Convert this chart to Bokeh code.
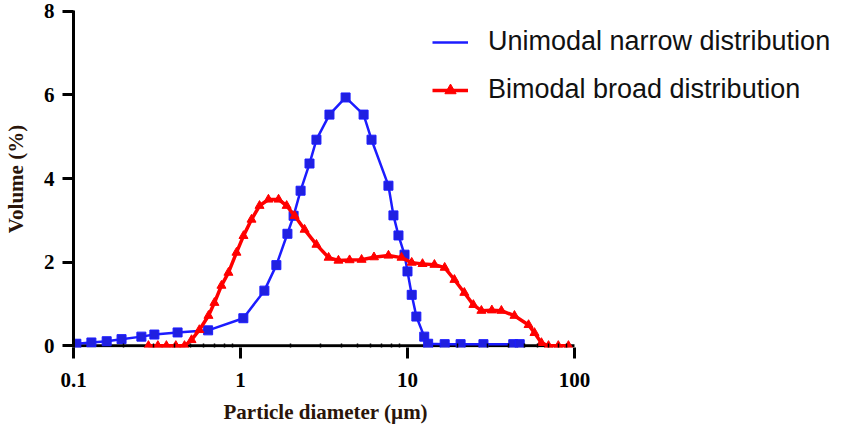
from bokeh.plotting import figure
from bokeh.models import Range1d, FixedTicker, Legend, LegendItem, CustomJSTickFormatter, Title
from bokeh.embed import file_html
from bokeh.resources import INLINE

# Unimodal narrow distribution (blue, squares)
uni_d = [0.104, 0.128, 0.158, 0.194, 0.255, 0.305, 0.42, 0.64, 1.04, 1.39, 1.64, 1.91,
         2.08, 2.29, 2.59, 2.85, 3.41, 4.26, 5.46, 6.09, 7.69, 8.24, 8.83, 9.6, 10.0,
         10.6, 11.3, 12.6, 13.3, 16.7, 20.8, 28.5, 43.0, 47.0]
uni_v = [0.05, 0.08, 0.11, 0.16, 0.22, 0.27, 0.32, 0.37, 0.66, 1.32, 1.93, 2.68,
         3.11, 3.71, 4.36, 4.93, 5.53, 5.94, 5.53, 4.93, 3.83, 3.12, 2.64, 2.18, 1.78,
         1.22, 0.70, 0.22, 0.05, 0.04, 0.04, 0.04, 0.04, 0.04]

# Bimodal broad distribution (red, triangles)
bi_d = [0.281, 0.32, 0.36, 0.41, 0.462, 0.509, 0.567, 0.643, 0.698, 0.769, 0.847, 0.946,
        1.042, 1.164, 1.30, 1.47, 1.69, 1.89, 2.11, 2.42, 2.85, 3.37, 3.86, 4.5, 5.31,
        6.3, 7.69, 9.21, 10.6, 12.3, 14.5, 16.7, 19.1, 21.9, 24.8, 27.7, 32.0, 36.5,
        43.7, 53.1, 57.6, 63.4, 69.9, 80.0, 92.0]
bi_v = [0.0, 0.0, 0.0, 0.0, 0.0, 0.14, 0.38, 0.72, 1.03, 1.44, 1.75, 2.23,
        2.63, 3.02, 3.35, 3.50, 3.50, 3.35, 3.11, 2.78, 2.42, 2.11, 2.04, 2.05, 2.06,
        2.12, 2.16, 2.11, 1.99, 1.96, 1.94, 1.87, 1.58, 1.27, 0.98, 0.84, 0.85, 0.84,
        0.72, 0.50, 0.31, 0.07, 0.0, 0.0, 0.0]

x_ticks = [0.1, 1, 10, 100]
x_minor = [m * 10.0 ** e for e in (-1, 0, 1) for m in range(2, 10)]
y_ticks = [0, 2, 4, 6, 8]

# frame extends to the right (room for the legend); the x axis line is drawn only 0.1..100
p = figure(x_axis_type="log", x_range=Range1d(0.1, 3707), y_range=Range1d(-0.04, 8.02),
           frame_width=763, frame_height=337,
           min_border_left=64, min_border_top=10, min_border_bottom=10, min_border_right=0,
           output_backend="svg", toolbar_location=None)
p.grid.visible = False
p.outline_line_color = None
p.background_fill_color = "white"
p.border_fill_color = "white"

# x axis baseline between the first and last tick
p.line([x_ticks[0], x_ticks[-1]], [y_ticks[0], y_ticks[0]], line_color="black", line_width=3)

blue_line = p.line(uni_d, uni_v, line_color="#1c1cff", line_width=2.5)
blue_pts = p.scatter(uni_d, uni_v, marker="square", size=9, fill_color="#2020e0",
                     line_color="#1c1cff", line_width=1)
red_line = p.line(bi_d, bi_v, line_color="#ff0000", line_width=3.5)
red_pts = p.scatter(bi_d, bi_v, marker="triangle", size=9, fill_color="#ff0000",
                    line_color="#ff0000")

xa = p.xaxis[0]
ya = p.yaxis[0]
xa.ticker = FixedTicker(ticks=x_ticks, minor_ticks=x_minor)
xa.formatter = CustomJSTickFormatter(code="return tick.toString();")
ya.ticker = FixedTicker(ticks=y_ticks)

for ax in (xa, ya):
    ax.axis_line_width = 3
    ax.axis_line_color = "black"
    ax.major_tick_line_width = 3
    ax.major_tick_line_color = "black"
    ax.major_tick_out = 11
    ax.major_tick_in = 0
    ax.major_label_text_font = "Liberation Serif"
    ax.major_label_text_font_style = "bold"
    ax.major_label_text_font_size = "21px"
    ax.major_label_text_color = "black"
    ax.axis_label_text_font = "Liberation Serif"
    ax.axis_label_text_font_style = "bold"
    ax.axis_label_text_font_size = "21px"
    ax.axis_label_text_color = "#2a150a"

xa.axis_line_color = None
xa.minor_tick_in = 4
xa.minor_tick_out = 0
xa.minor_tick_line_width = 1.5
xa.minor_tick_line_color = "black"
xa.major_label_standoff = 14

ya.minor_tick_line_color = None
ya.major_label_standoff = 8
ya.axis_label = "Volume (%)"
ya.axis_label_standoff = 13

xtitle = Title(text="Particle diameter (µm)", align="left", offset=150, standoff=16,
               text_font="Liberation Serif", text_font_style="bold",
               text_font_size="21px", text_color="#2a150a")
p.add_layout(xtitle, "below")

legend = Legend(items=[LegendItem(label="Unimodal narrow distribution", renderers=[blue_line]),
                       LegendItem(label="Bimodal broad distribution", renderers=[red_line, red_pts])],
                location=(359, 242), glyph_width=36, glyph_height=28, label_height=28,
                spacing=17, label_standoff=20, padding=0, margin=0,
                border_line_color=None, background_fill_alpha=0,
                label_text_font="Liberation Sans", label_text_font_size="27px",
                label_text_color="#111111")
p.add_layout(legend)

open("out.html", "w").write(file_html(p, INLINE))
